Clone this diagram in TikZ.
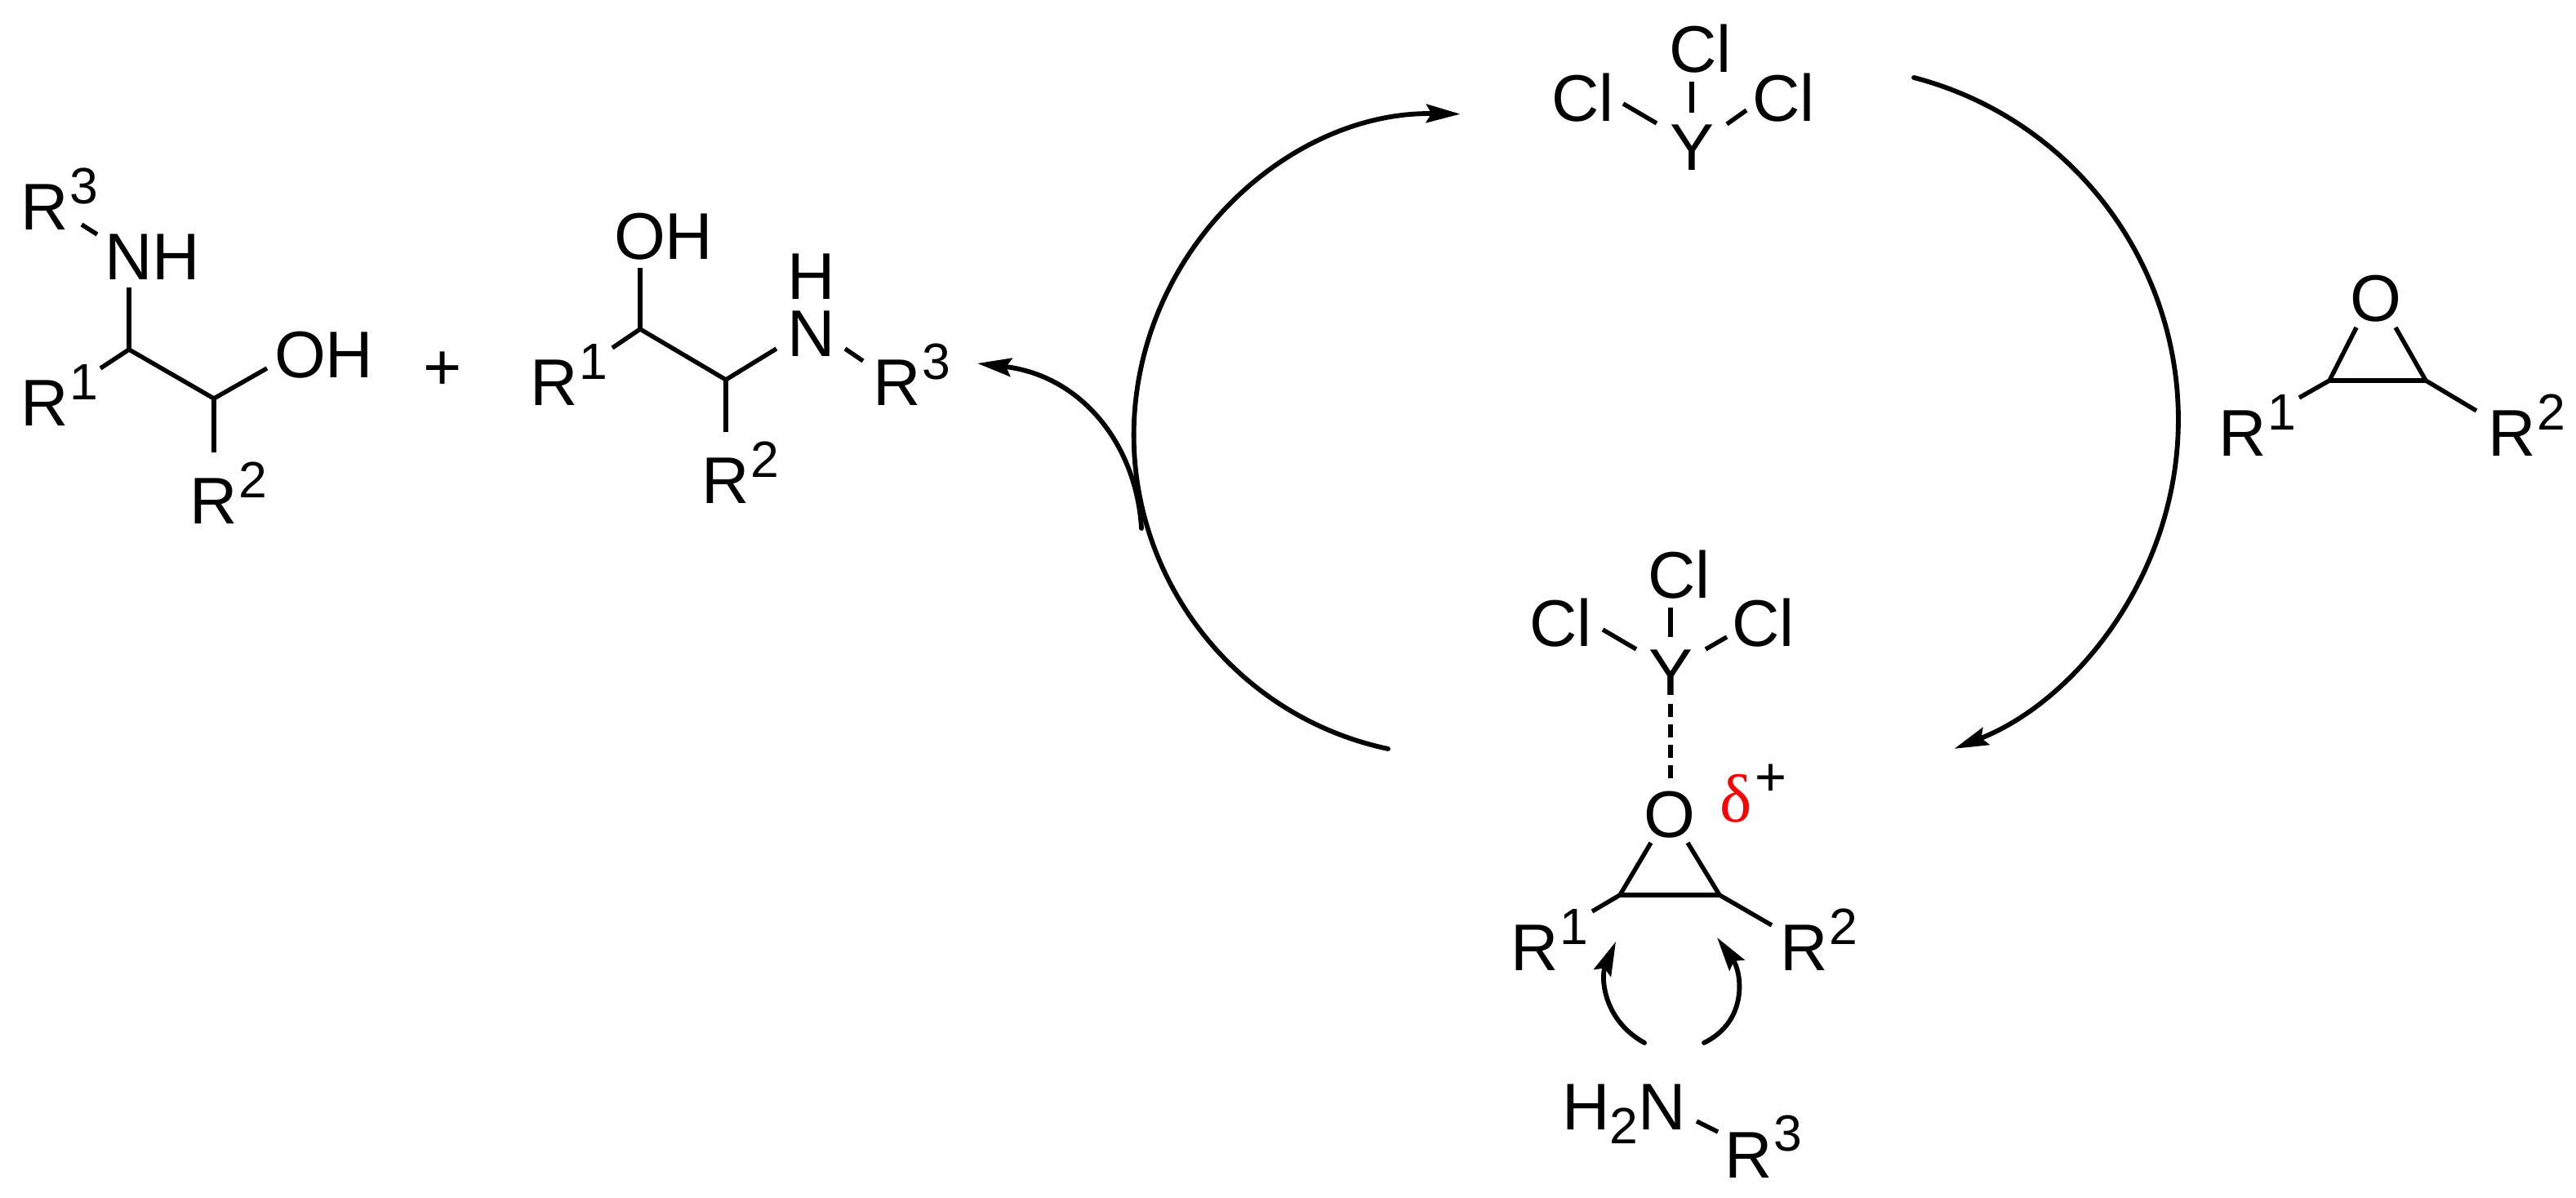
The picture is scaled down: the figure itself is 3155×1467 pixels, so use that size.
\documentclass[tikz,border=0pt]{standalone}
\usepackage{fontspec}
\setmainfont{Liberation Sans}
\newfontfamily\serifdelta{Liberation Serif}
\usetikzlibrary{arrows.meta}
\newcommand{\supr}[1]{\kern0.6pt\raisebox{7.9pt}{\fontsize{15}{15}\selectfont #1}}
\newcommand{\subr}[1]{\raisebox{-4.1pt}{\fontsize{15}{15}\selectfont #1}}
\tikzset{
  atom/.style={anchor=base west,inner sep=0pt,outer sep=0pt,font=\fontsize{19.4}{20}\selectfont,text=black},
  bond/.style={line width=1.3pt,line cap=butt,line join=miter,draw=black},
  dashbond/.style={line width=1.4pt,draw=black,dash pattern=on 3.9pt off 2.1pt},
  cycle arc/.style={line width=1.4pt,draw=black,line cap=round},
  tipped/.style={-{Stealth[length=10pt,width=5.4pt,inset=1.5pt]}}
}
\begin{document}
\begin{tikzpicture}[x=0.24pt,y=-0.24pt]
\useasboundingbox (0,0) rectangle (3155,1467);
% ---------- bond end points
\foreach \n/\x/\y in {
 la/100/275, lb/119/287, lc/158/352, ld/158/428, le/123/451, lf/262/488, lg/327/451, lh/262/554,
 pa/784/328, pb/784/403, pc/750/426, pd/889/465, pe/951/427, pf/1035/427, pg/1057/442, ph/889/529,
 ta/2072/100, tb/2072/138, tc/1988/127, td/2029/151, te/2139/135, tf/2115/152,
 ea/2886/401, eb/2853/466, ec/2934/401, ed/2971/466, ee/2816/487, ef/3033/503,
 ba/2046/744, bb/2046/780, bc/1963/771, bd/2004/795, be/2115/780, bf/2089/795,
 bg/2046/862, bh/2046/953, bi/2022/1032, bj/1984/1096, bk/2067/1032, bl/2106/1096,
 bm/1950/1116, bn/2170/1133, bo/2078/1373, bp/2104/1386,
 aa/2014/1277, ab/1962/1248, ac/1961/1195, ad/1979/1153,
 ae/2087/1277, af/2142/1250, ag/2133/1190, ah/2103/1148,
 sa/1398/647, sb/1392/545, sc/1325/460, sd/1197/445,
 ra/2344/95, rb/1700/917}
 \coordinate (\n) at (\x,\y);
% ---------- left product
\node[atom] (lR3) at (25,282) {R\supr{3}};
\node[atom] (lNH) at (128,343) {NH};
\node[atom] (lR1) at (25,522) {R\supr{1}};
\node[atom] (lOH) at (336,463) {OH};
\node[atom] (lR2) at (232,642) {R\supr{2}};
\draw[bond] (la)--(lb);
\draw[bond] (lc)--(ld);
\draw[bond] (le)--(ld)--(lf)--(lg);
\draw[bond] (lf)--(lh);
\node[atom] (plus) at (518,478) {+};
% ---------- second product
\node[atom] (pOH) at (752,318) {OH};
\node[atom] (pR1) at (649,497) {R\supr{1}};
\node[atom,align=left,font=\fontsize{19.4}{16.8}\selectfont] (pHN) at (964,437) {H\\N};
\node[atom] (pR3) at (1069,497) {R\supr{3}};
\node[atom] (pR2) at (859,617) {R\supr{2}};
\draw[bond] (pa)--(pb);
\draw[bond] (pc)--(pb)--(pd)--(pe);
\draw[bond] (pf)--(pg);
\draw[bond] (pd)--(ph);
% ---------- YCl3 top
\node[atom] (tCl) at (2044,89) {Cl};
\node[atom] (tClL) at (1900,149) {Cl};
\node[atom] (tClR) at (2146,149) {Cl};
\node[atom] (tY) at (2045,209) {Y};
\draw[bond] (ta)--(tb);
\draw[bond] (tc)--(td);
\draw[bond] (te)--(tf);
% ---------- epoxide right
\node[atom] (eO) at (2878,394) {O};
\node[atom] (eR1) at (2717,559) {R\supr{1}};
\node[atom] (eR2) at (3047,559) {R\supr{2}};
\draw[bond] (ee)--(eb)--(ea);
\draw[bond] (eb)--(ed);
\draw[bond] (ec)--(ed)--(ef);
% ---------- activated complex
\node[atom] (bCl) at (2018,733) {Cl};
\node[atom] (bClL) at (1873,792) {Cl};
\node[atom] (bClR) at (2121,792) {Cl};
\node[atom] (bY) at (2019,852) {Y};
\node[atom] (bO) at (2013,1026) {O};
\node[atom,font=\fontsize{20}{20}\selectfont\serifdelta,text={rgb,255:red,255;green,0;blue,0}] (delta) at (2106,1007) {δ};
\node[atom,font=\fontsize{16}{16}\selectfont] (dplus) at (2149,975) {+};
\node[atom] (bR1) at (1850,1189) {R\supr{1}};
\node[atom] (bR2) at (2180,1189) {R\supr{2}};
\node[atom] (bHN) at (1913,1383) {H\subr{2}N};
\node[atom] (bR3) at (2112,1442) {R\supr{3}};
\draw[bond] (ba)--(bb);
\draw[bond] (bc)--(bd);
\draw[bond] (be)--(bf);
\draw[dashbond] (bg)--(bh);
\draw[bond] (bm)--(bj)--(bi);
\draw[bond] (bj)--(bl);
\draw[bond] (bk)--(bl)--(bn);
\draw[bond] (bo)--(bp);
% ---------- curved arrows
\draw[cycle arc,tipped] (aa) .. controls (ab) and (ac) .. (ad);
\draw[cycle arc,tipped] (ae) .. controls (af) and (ag) .. (ah);
\draw[cycle arc,tipped] (sa) .. controls (sb) and (sc) .. (sd);
\draw[cycle arc,tipped] (ra) arc[start angle=75.4,end angle=-68.5,radius=103.92pt];
\draw[cycle arc,tipped] (rb) arc[start angle=258,end angle=89,radius=94.32pt];
\end{tikzpicture}
\end{document}
